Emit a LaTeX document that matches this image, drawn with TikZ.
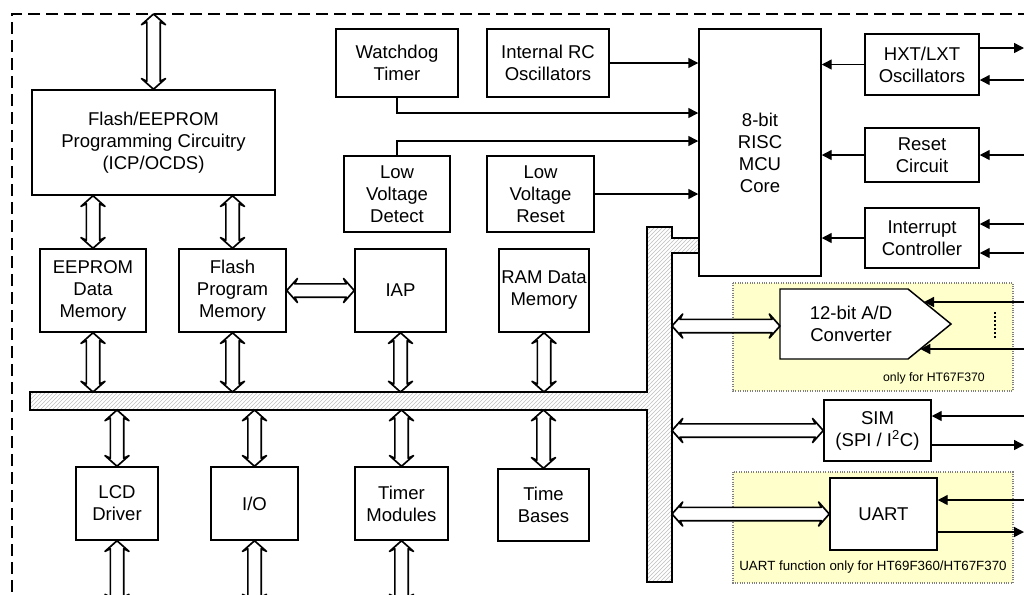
\documentclass[tikz,border=0pt]{standalone}
\usepackage{fontspec}
\setmainfont{Liberation Sans}
\usetikzlibrary{arrows.meta,patterns,calc}
\definecolor{ylw}{RGB}{255,255,204}
\newcommand\mkblk[6]{\node[bx,minimum width={(#4-#2)*0.75pt},minimum height={(#5-#3)*0.75pt}] (#1) at ({(#2+#4)/2},{(#3+#5)/2}) {#6};}
\begin{document}
\begin{tikzpicture}[x=0.75pt,y=-0.75pt,
  bx/.style={draw,line width=1.1pt,align=center,inner sep=0pt,fill=white,font=\fontsize{13.9}{16.5}\selectfont},
  arr/.style={line width=1.1pt,-{Triangle[length=7.5pt,width=7.5pt]}},
  dbl/.style={line width=1.25pt,fill=white,line join=round,to path={
    -- ($(\tikztostart)!8pt!(\tikztotarget)!9pt!90:(\tikztotarget)$)
    -- ($(\tikztostart)!6pt!(\tikztotarget)!5pt!90:(\tikztotarget)$)
    -- ($(\tikztotarget)!6pt!(\tikztostart)!5pt!-90:(\tikztostart)$)
    -- ($(\tikztotarget)!8pt!(\tikztostart)!9pt!-90:(\tikztostart)$)
    -- (\tikztotarget)
    -- ($(\tikztotarget)!8pt!(\tikztostart)!9pt!90:(\tikztostart)$)
    -- ($(\tikztotarget)!6pt!(\tikztostart)!5pt!90:(\tikztostart)$)
    -- ($(\tikztostart)!6pt!(\tikztotarget)!5pt!-90:(\tikztotarget)$)
    -- ($(\tikztostart)!8pt!(\tikztotarget)!9pt!-90:(\tikztotarget)$)
    -- cycle}},
  ybox/.style={fill=ylw,draw=gray,densely dotted,line width=0.8pt},
  small/.style={inner sep=0pt,font=\fontsize{9.2}{11}\selectfont}]
\useasboundingbox (0,0) rectangle (1024,594);
\fill[white] (0,0) rectangle (1024,594);
\begin{scope}
\clip (0,0) rectangle (1024,594);
% border
\draw[line width=0.9pt,dash pattern=on 9pt off 4.5pt] (1030,14) -- (12,14) -- (12,600);
% yellow option areas
\draw[ybox] (733,283) rectangle (1013,391);
\draw[ybox] (733,472) rectangle (1013,583);
\node[small,anchor=east] (t1) at (985,378.5) {only for HT67F370};
\node[small,font=\fontsize{10}{12}\selectfont] (t2) at (873,567) {UART function only for HT69F360/HT67F370};
% bus
\draw[line width=1.1pt,pattern=north east lines,pattern color=gray!50]
  (30,392) -- (647,392) -- (647,227) -- (672,227) -- (672,238) -- (699,238) -- (699,253)
  -- (672,253) -- (672,582) -- (647,582) -- (647,410) -- (30,410) -- cycle;
\coordinate (busT) at (0,392);
\coordinate (busB) at (0,410);
\coordinate (busR) at (672,0);
\coordinate (topE) at (0,14);
\coordinate (botE) at (0,605);
\coordinate (rE) at (1024,0);
% blocks
\mkblk{flash}{32}{90}{275}{195}{\baselineskip=15pt Flash/EEPROM\\Programming Circuitry\\(ICP/OCDS)}
\mkblk{eeprom}{40}{249}{146}{332}{EEPROM\\Data\\Memory}
\mkblk{fpm}{179}{249}{286}{332}{Flash\\Program\\Memory}
\mkblk{iap}{355}{249}{446}{332}{IAP}
\mkblk{ram}{499}{249}{589}{332}{RAM Data\\Memory}
\mkblk{wdt}{336}{29}{458}{97}{Watchdog\\Timer}
\mkblk{irc}{487}{29}{609}{97}{Internal RC\\Oscillators}
\mkblk{lvd}{344}{156}{450}{232}{Low\\Voltage\\Detect}
\mkblk{lvr}{487}{156}{594}{232}{Low\\Voltage\\Reset}
\mkblk{core}{699}{29}{821}{276}{8-bit\\RISC\\MCU\\Core}
\mkblk{hxt}{865}{34}{979}{95}{HXT/LXT\\Oscillators}
\mkblk{rst}{865}{128}{979}{182}{Reset\\Circuit}
\mkblk{intc}{865}{208}{979}{268}{Interrupt\\Controller}
\mkblk{sim}{824}{400}{931}{461}{SIM\\(SPI / I\textsuperscript{2}C)}
\mkblk{uart}{830}{478}{937}{550}{UART}
\mkblk{lcd}{76}{467}{158}{540}{LCD\\Driver}
\mkblk{io}{211}{467}{298}{540}{I/O}
\mkblk{tmr}{355}{467}{448}{540}{Timer\\Modules}
\mkblk{tb}{498}{469}{589}{541}{Time\\Bases}
% A/D converter
\draw[line width=1.1pt,fill=white] (780,289) -- (908,289) -- (951,324) -- (908,359) -- (780,359) -- cycle;
\node[align=center,inner sep=0pt,font=\fontsize{13.9}{16.5}\selectfont] (adc) at (851,324) {12-bit A/D\\Converter};
\coordinate (adcW) at (780,326);
\coordinate (adcA) at (924,302);
\coordinate (adcB) at (920.3,349);
\draw[line width=1.5pt,dash pattern=on 1.5pt off 1.5pt] (995,312) -- (995,340);
% double arrows
\draw[dbl] (flash.north |- topE) to (flash.north);
\draw[dbl] (eeprom.north |- flash.south) to (eeprom.north);
\draw[dbl] (fpm.north |- flash.south) to (fpm.north);
\draw[dbl] (fpm.east) to (iap.west);
\foreach \n in {eeprom,fpm,iap,ram} \draw[dbl] (\n.south) to (\n.south |- busT);
\foreach \n in {lcd,io,tmr,tb} \draw[dbl] (\n.north |- busB) to (\n.north);
\foreach \n in {lcd,io,tmr} \draw[dbl] (\n.south) to (\n.south |- botE);
\draw[dbl] (busR |- adcW) to (adcW);
\draw[dbl] (busR |- sim.west) to (sim.west);
\draw[dbl] (busR |- uart.west) to (uart.west);
% single arrows into core
\draw[arr] (irc.east) -- (irc.east -| core.west);
\coordinate (wy) at (0,113);
\coordinate (ly) at (0,141);
\draw[arr] (wdt.south) |- (core.west |- wy);
\draw[arr] (lvd.north) |- (core.west |- ly);
\draw[arr] (lvr.east) -- (lvr.east -| core.west);
\draw[arr] (hxt.west) -- (hxt.west -| core.east);
\draw[arr] (rst.west) -- (rst.west -| core.east);
\draw[arr] (intc.west) -- (intc.west -| core.east);
% external pins
\coordinate (p1) at (0,48);
\coordinate (p2) at (0,80);
\coordinate (p3) at (0,224);
\coordinate (p4) at (0,253);
\draw[arr] (hxt.east |- p1) -- (rE |- p1);
\draw[arr] (rE |- p2) -- (hxt.east |- p2);
\draw[arr] (rE |- rst.east) -- (rst.east);
\draw[arr] (rE |- p3) -- (intc.east |- p3);
\draw[arr] (rE |- p4) -- (intc.east |- p4);
\draw[arr] (rE |- adcA) -- (adcA);
\draw[arr] (rE |- adcB) -- (adcB);
\coordinate (s1) at (0,416);
\coordinate (s2) at (0,445);
\coordinate (u1) at (0,500);
\coordinate (u2) at (0,532);
\draw[arr] (rE |- s1) -- (sim.east |- s1);
\draw[arr] (sim.east |- s2) -- (rE |- s2);
\draw[arr] (rE |- u1) -- (uart.east |- u1);
\draw[arr] (uart.east |- u2) -- (rE |- u2);
\end{scope}
\end{tikzpicture}
\end{document}
